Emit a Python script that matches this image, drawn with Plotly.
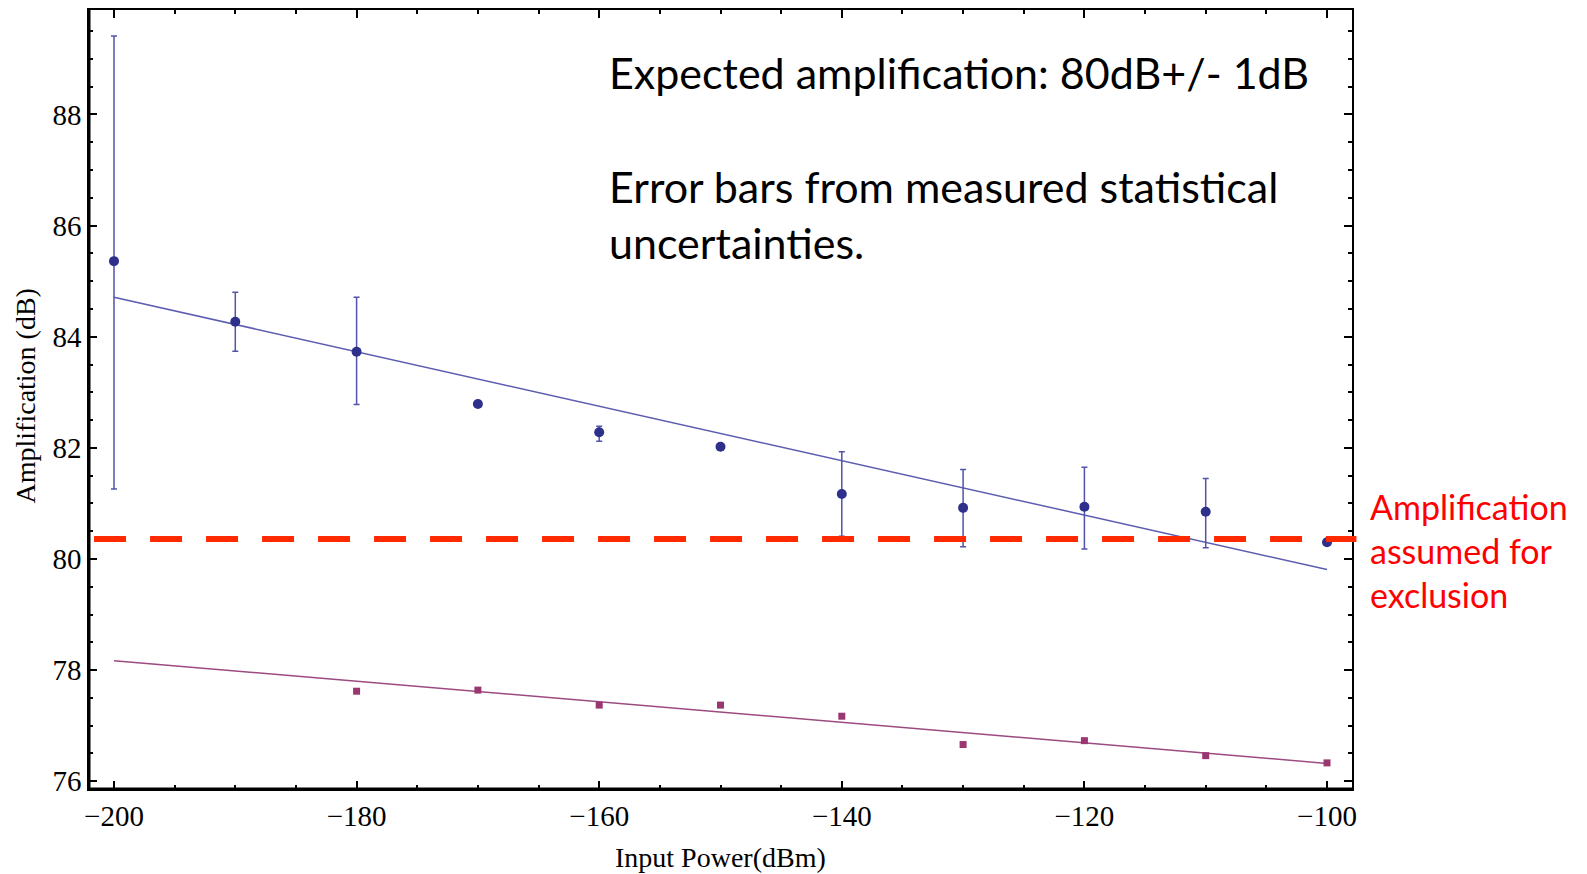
import plotly.graph_objects as go

# ---------------- data ----------------
x_power = [-200, -190, -180, -170, -160, -150, -140, -130, -120, -110, -100]
amp_blue = [85.36, 84.27, 83.73, 82.79, 82.28, 82.02, 81.17, 80.92, 80.94, 80.85, 80.30]
err_blue_up = [4.05, 0.53, 0.98, 0.0, 0.11, 0.0, 0.76, 0.69, 0.71, 0.60, 0.0]
err_blue_down = [4.10, 0.53, 0.95, 0.0, 0.16, 0.0, 0.76, 0.70, 0.76, 0.65, 0.0]

x_purple = [-180, -170, -160, -150, -140, -130, -120, -110, -100]
amp_purple = [77.62, 77.64, 77.37, 77.37, 77.17, 76.66, 76.73, 76.46, 76.33]

fit_x = [-200, -100]
fit_blue = [84.71, 79.81]
fit_purple = [78.17, 76.32]

threshold = 80.36

x_ticks = [-200, -180, -160, -140, -120, -100]
y_ticks = [76, 78, 80, 82, 84, 86, 88]

# ---------------- styles ----------------
SERIF = "Liberation Serif"
SANS = "Lato"
BLUE_PT = "#2f2f8c"
BLUE_LN = "#5c5cb0"
PURP_PT = "#9a3670"
PURP_LN = "#9c4a80"

fig = go.Figure()

fig.add_trace(go.Scatter(
    x=fit_x, y=fit_blue, mode="lines",
    line=dict(color=BLUE_LN, width=1.5), showlegend=False, hoverinfo="skip"))
fig.add_trace(go.Scatter(
    x=fit_x, y=fit_purple, mode="lines",
    line=dict(color=PURP_LN, width=1.5), showlegend=False, hoverinfo="skip"))

fig.add_trace(go.Scatter(
    x=x_power, y=amp_blue, mode="markers",
    marker=dict(color=BLUE_PT, size=10, symbol="circle"),
    error_y=dict(type="data", array=err_blue_up, arrayminus=err_blue_down,
                 symmetric=False, color="#5353a8", thickness=1.5, width=3),
    showlegend=False))

fig.add_trace(go.Scatter(
    x=x_purple, y=amp_purple, mode="markers",
    marker=dict(color=PURP_PT, size=7, symbol="square"),
    showlegend=False))

# red dashed threshold line (extends slightly beyond frame)
fig.add_shape(type="line", xref="paper", yref="y",
              x0=0.004, x1=1.0035, y0=threshold, y1=threshold,
              line=dict(color="#ff2a00", width=6, dash="32px,24px"))

# thick left and bottom frame lines
fig.add_shape(type="line", xref="paper", yref="paper", x0=0, x1=0, y0=0, y1=1,
              line=dict(color="black", width=3))
fig.add_shape(type="line", xref="paper", yref="paper", x0=0, x1=1, y0=0, y1=0,
              line=dict(color="black", width=3))

axis_common = dict(
    showgrid=False, zeroline=False, showline=True, linecolor="black",
    linewidth=1.5, mirror="ticks", ticks="inside", ticklen=8, tickwidth=2,
    tickcolor="black", tickfont=dict(family=SERIF, size=29, color="black"),
)

fig.update_xaxes(range=[-202.06, -97.94], tickvals=x_ticks,
                 minor=dict(dtick=5, tick0=-200, ticks="inside", ticklen=4,
                            tickwidth=1.5, tickcolor="black"),
                 **axis_common)
fig.update_yaxes(range=[75.86, 89.88], tickvals=y_ticks,
                 minor=dict(dtick=0.5, tick0=76, ticks="inside", ticklen=4,
                            tickwidth=1.5, tickcolor="black"),
                 **axis_common)

annos = [
    dict(text="Input Power(dBm)", x=0.5, y=-0.0885, xref="paper", yref="paper",
         xanchor="center", yanchor="middle", showarrow=False,
         font=dict(family=SERIF, size=28, color="black")),
    dict(text="Amplification (dB)", x=-0.0500, y=0.505, xref="paper", yref="paper",
         xanchor="center", yanchor="middle", showarrow=False, textangle=-90,
         font=dict(family=SERIF, size=28, color="black")),
    dict(text="Expected amplification: 80dB+/- 1dB", x=0.410, y=0.9200,
         xref="paper", yref="paper", xanchor="left", yanchor="middle",
         showarrow=False, font=dict(family=SANS, size=43, color="black")),
    dict(text="Error bars from measured statistical", x=0.410, y=0.7730,
         xref="paper", yref="paper", xanchor="left", yanchor="middle",
         showarrow=False, font=dict(family=SANS, size=43, color="black")),
    dict(text="uncertainties.", x=0.410, y=0.7010,
         xref="paper", yref="paper", xanchor="left", yanchor="middle",
         showarrow=False, font=dict(family=SANS, size=43, color="black")),
    dict(text="Amplification", x=1.0127, y=0.3624,
         xref="paper", yref="paper", xanchor="left", yanchor="middle",
         showarrow=False, font=dict(family=SANS, size=34, color="#ff0000")),
    dict(text="assumed for", x=1.0127, y=0.3060,
         xref="paper", yref="paper", xanchor="left", yanchor="middle",
         showarrow=False, font=dict(family=SANS, size=34, color="#ff0000")),
    dict(text="exclusion", x=1.0127, y=0.2497,
         xref="paper", yref="paper", xanchor="left", yanchor="middle",
         showarrow=False, font=dict(family=SANS, size=34, color="#ff0000")),
]

fig.update_layout(
    width=1587, height=874,
    margin=dict(l=89, r=235, t=8, b=85),
    paper_bgcolor="white", plot_bgcolor="white",
    annotations=annos,
    showlegend=False,
)

fig.write_html("out.html", config={"displayModeBar": False})
